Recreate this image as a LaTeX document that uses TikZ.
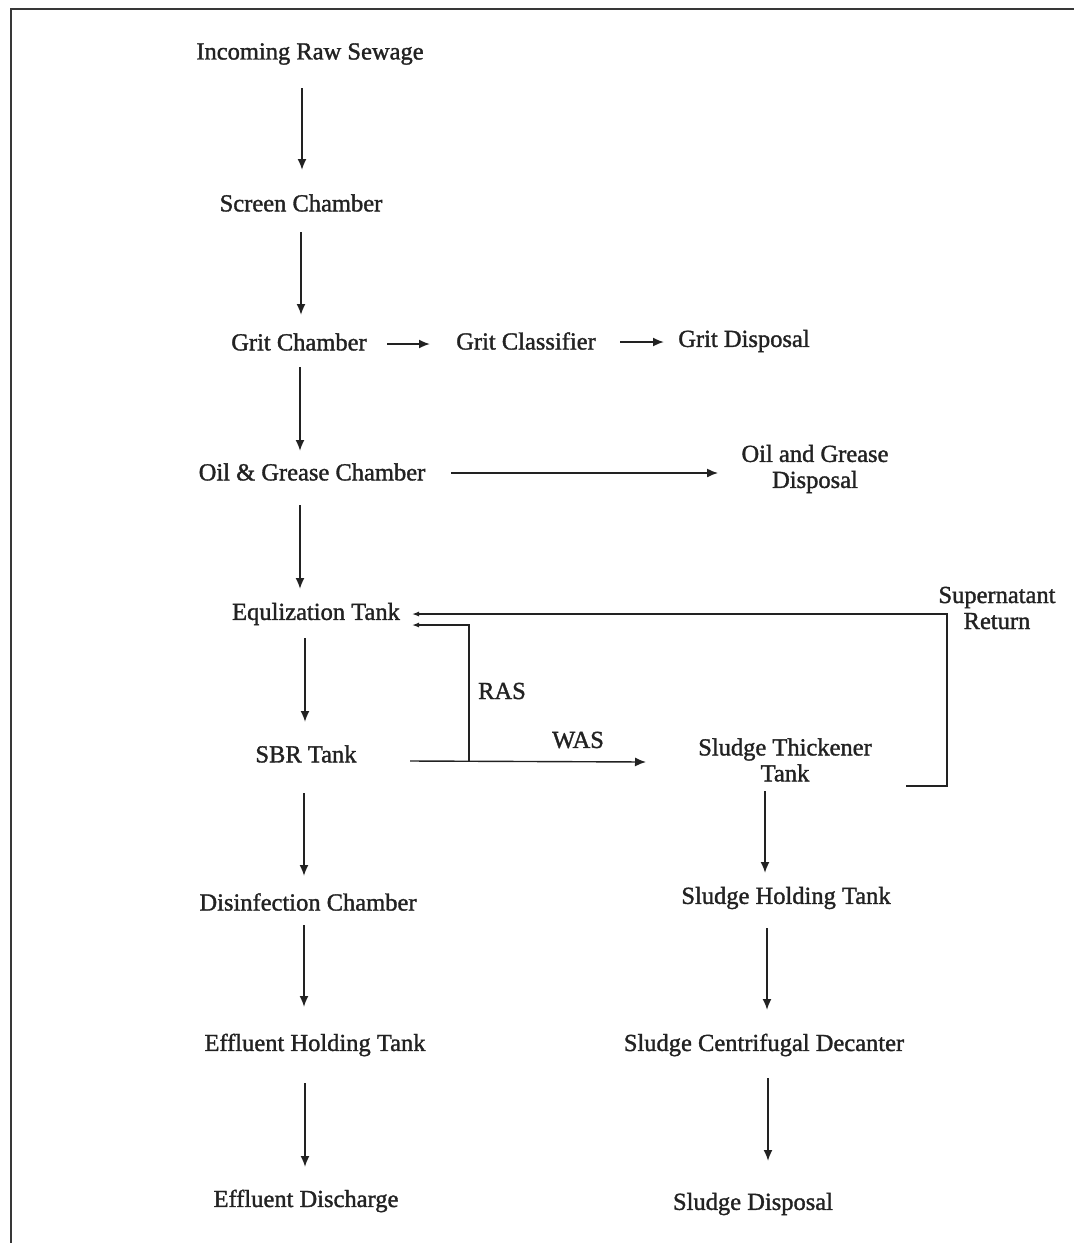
\documentclass[tikz,border=0pt]{standalone}
\usepackage{fontspec}
\setmainfont{Liberation Serif}[BoldFont={Liberation Serif}, BoldFeatures={FakeBold=1.4}]
\usetikzlibrary{arrows.meta}
\definecolor{ink}{HTML}{222222}
\begin{document}
\begin{tikzpicture}[x=1pt,y=-1pt,
  lbl/.style={font=\fontsize{24.5}{26}\selectfont\bfseries, text=ink, inner sep=0pt, align=center},
  arr/.style={draw=ink, line width=1.8pt, -{Latex[length=11pt,width=9pt]}},
  ln/.style={draw=ink!85, line width=1.5pt}]
\useasboundingbox (0,0) rectangle (1074,1243);
\draw[line width=2pt, draw=ink!90] (10.5,1243) -- (10.5,9) -- (1074,9);

% left column
\node[lbl] (in)  at (310,54)   {Incoming Raw Sewage};
\node[lbl] (sc)  at (301,203)  {Screen Chamber};
\node[lbl] (gc)  at (299,342)  {Grit Chamber};
\node[lbl] (gcl) at (526,341)  {Grit Classifier};
\node[lbl] (gd)  at (744,341)  {Grit Disposal};
\node[lbl] (oil) at (312,472)  {Oil \& Grease Chamber};
\node[lbl] (ogd) at (815,469)  {Oil and Grease\\Disposal};
\node[lbl] (eq)  at (316,614)  {Equlization Tank};
\node[lbl] (sbr) at (306,754)  {SBR Tank};
\node[lbl] (dis) at (308,902)  {Disinfection Chamber};
\node[lbl] (eht) at (315,1045) {Effluent Holding Tank};
\node[lbl] (ed)  at (306,1201) {Effluent Discharge};
% right column
\node[lbl] (st)  at (785,760)  {Sludge Thickener\\Tank};
\node[lbl] (sht) at (786,898)  {Sludge Holding Tank};
\node[lbl] (scd) at (764,1045) {Sludge Centrifugal Decanter};
\node[lbl] (sd)  at (753,1204) {Sludge Disposal};
% labels
\node[lbl] (ras) at (502,691)  {RAS};
\node[lbl] (was) at (578,740)  {WAS};
\node[lbl] (sup) at (997,608)  {Supernatant\\Return};

% vertical arrows
\draw[arr] ([xshift=-8pt,yshift=-34pt]in.center) -- ([xshift=1pt,yshift=33pt]sc.center);
\draw[arr] ([xshift=0pt,yshift=-29pt]sc.center) -- ([xshift=2pt,yshift=27pt]gc.center);
\draw[arr] ([xshift=1pt,yshift=-25pt]gc.center) -- ([xshift=-12pt,yshift=21pt]oil.center);
\draw[arr] ([xshift=-12pt,yshift=-33pt]oil.center) -- ([xshift=-16pt,yshift=25pt]eq.center);
\draw[arr] ([xshift=-11pt,yshift=-24pt]eq.center) -- ([xshift=-1pt,yshift=32pt]sbr.center);
\draw[arr] ([xshift=-2pt,yshift=-39pt]sbr.center) -- ([xshift=-4pt,yshift=26pt]dis.center);
\draw[arr] ([xshift=-4pt,yshift=-23pt]dis.center) -- ([xshift=-11pt,yshift=38pt]eht.center);
\draw[arr] ([xshift=-10pt,yshift=-38pt]eht.center) -- ([xshift=-1pt,yshift=34pt]ed.center);
\draw[arr] ([xshift=-20pt,yshift=-31pt]st.center) -- ([xshift=-21pt,yshift=25pt]sht.center);
\draw[arr] ([xshift=-19pt,yshift=-30pt]sht.center) -- ([xshift=3pt,yshift=35pt]scd.center);
\draw[arr] ([xshift=4pt,yshift=-33pt]scd.center) -- ([xshift=15pt,yshift=43pt]sd.center);

% horizontal arrows
\draw[arr] ([xshift=88pt,yshift=-2pt]gc.center) -- ([xshift=-96pt,yshift=-3pt]gcl.center);
\draw[arr] ([xshift=94pt,yshift=-1pt]gcl.center) -- ([xshift=-80pt,yshift=-1pt]gd.center);
\draw[arr, line width=1.4pt] ([xshift=139pt,yshift=-1pt]oil.center) -- ([xshift=-97pt,yshift=-4pt]ogd.center);
\draw[arr, line width=1.4pt] ([xshift=104pt,yshift=-7pt]sbr.center) -- ([xshift=-139pt,yshift=-2pt]st.center);

% RAS return
\coordinate (j) at (469,761);
\draw[arr, line width=1.3pt, -{Latex[length=7pt,width=5pt]}] (j) |- ([xshift=96pt,yshift=-11pt]eq.center);
% Supernatant return
\coordinate (sr) at (947,614);
\draw[arr, line width=1.3pt, -{Latex[length=7pt,width=5pt]}] ([xshift=121pt,yshift=-26pt]st.center) -| (sr) -- ([xshift=96pt]eq.center);
\end{tikzpicture}
\end{document}
